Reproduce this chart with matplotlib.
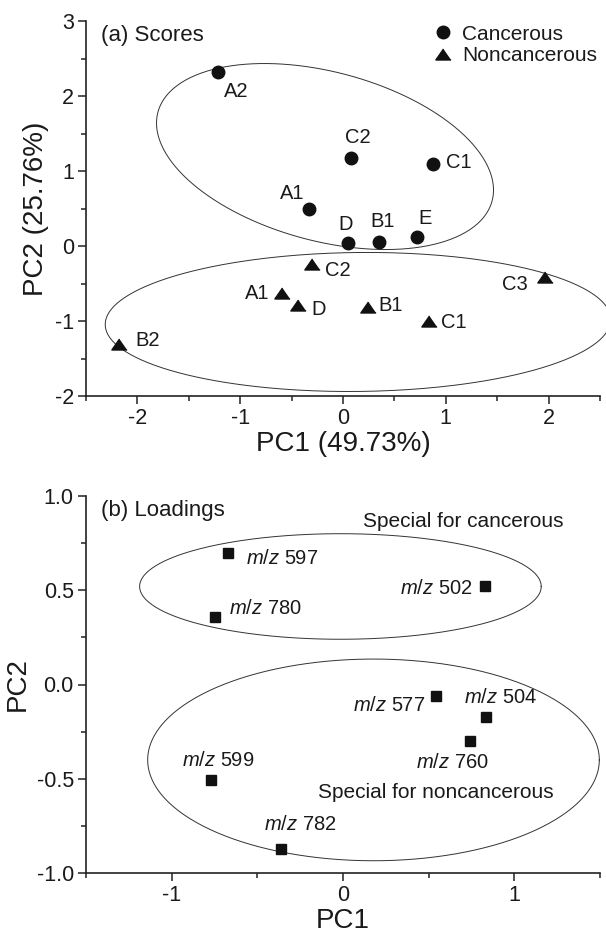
import numpy as np
import matplotlib
matplotlib.use("Agg")
import matplotlib.pyplot as plt
from matplotlib.ticker import MultipleLocator, FormatStrFormatter
from matplotlib.lines import Line2D

plt.rcParams['font.family'] = ['Liberation Sans', 'DejaVu Sans']
plt.rcParams['axes.unicode_minus'] = False
plt.rcParams['mathtext.fontset'] = 'custom'
plt.rcParams['mathtext.rm'] = 'Liberation Sans'
plt.rcParams['mathtext.it'] = 'Liberation Sans:italic'

TXT = '#1a1a1a'

# ---------------- data: (a) scores ----------------
cancer_labels = ['A2', 'A1', 'C2', 'C1', 'D', 'B1', 'E']
cancer_pc1 = [-1.22, -0.33, 0.075, 0.88, 0.046, 0.354, 0.72]
cancer_pc2 = [2.32, 0.49, 1.17, 1.10, 0.035, 0.05, 0.12]
cancer_offsets = [(13.5, -14.2), (-11.9, 11.5), (4.9, 15), (18, 0.6),
                  (-1.7, 13.9), (2.3, 14.8), (6, 13.2)]

non_labels = ['C2', 'A1', 'D', 'B1', 'C1', 'C3', 'B2']
non_pc1 = [-0.30, -0.593, -0.44, 0.24, 0.84, 1.964, -2.18]
non_pc2 = [-0.24, -0.63, -0.79, -0.81, -1.00, -0.41, -1.31]
non_offsets = [(18.4, -4.7), (-17.8, 0), (15, -3.2), (16.5, 0.9),
               (17.9, -1.1), (-21.3, -5.4), (20.9, 2.5)]

# ---------------- data: (b) loadings ----------------
load_labels = ['597', '780', '502', '577', '504', '760', '599', '782']
load_pc1 = [-0.67, -0.745, 0.826, 0.54, 0.837, 0.742, -0.768, -0.362]
load_pc2 = [0.70, 0.36, 0.52, -0.061, -0.17, -0.30, -0.507, -0.874]
load_offsets = [(38.6, -4), (35.8, 6), (-34.5, -1.2), (-33.1, -7.1),
                (9.8, 13.8), (-12.7, -15.1), (4.8, 13.8), (13.8, 17.5)]

# ellipses: (cx, cy, half-x-extent, half-y-extent, correlation)
ellipses_a = [(-0.175, 1.193, 1.639, 1.24, -0.36),
              (0.146, -1.013, 2.459, 0.927, 0.036)]
ellipses_b = [(-0.015, 0.52, 1.172, 0.28, 0.0),
              (0.178, -0.40, 1.318, 0.535, 0.0)]

tri = [(0, 0.72), (-1, -0.72), (1, -0.72)]


def draw_ellipse(ax, cx, cy, hx, hy, r):
    t = np.linspace(0, 2 * np.pi, 400)
    x = cx + hx * np.cos(t)
    y = cy + hy * (r * np.cos(t) + np.sqrt(1 - r * r) * np.sin(t))
    ax.plot(x, y, color='#333333', lw=0.7, clip_on=False, zorder=1)


def style_axes(ax):
    for s in ['top', 'right']:
        ax.spines[s].set_visible(False)
    for s in ['left', 'bottom']:
        ax.spines[s].set_linewidth(1.2)
        ax.spines[s].set_color('#222222')
    ax.tick_params(which='major', direction='out', length=5.8, width=1.1,
                   labelsize=15.5, pad=3, colors='#222222', labelcolor=TXT)
    ax.tick_params(which='minor', direction='out', length=3.5, width=1.1,
                   colors='#222222')


fig = plt.figure(figsize=(6.06, 9.35), dpi=100)

# ---------------- panel (a) ----------------
axa = fig.add_axes([86 / 606, 1 - 396 / 935, 514 / 606, 375 / 935])
axa.set_xlim(-2.5, 2.5)
axa.set_ylim(-2, 3)
axa.xaxis.set_major_locator(MultipleLocator(1))
axa.xaxis.set_minor_locator(MultipleLocator(0.5))
axa.yaxis.set_major_locator(MultipleLocator(1))
axa.yaxis.set_minor_locator(MultipleLocator(0.5))
style_axes(axa)

for e in ellipses_a:
    draw_ellipse(axa, *e)

axa.plot(cancer_pc1, cancer_pc2, 'o', ms=9, color='#111111', ls='none', zorder=3)
axa.plot(non_pc1, non_pc2, marker=tri, ms=11, color='#111111', ls='none', zorder=3)

for lab, x, y, off in zip(cancer_labels, cancer_pc1, cancer_pc2, cancer_offsets):
    axa.annotate(lab, (x, y), xytext=off, textcoords='offset points',
                 ha='center', va='center', fontsize=14.5, color=TXT)
for lab, x, y, off in zip(non_labels, non_pc1, non_pc2, non_offsets):
    axa.annotate(lab, (x, y), xytext=off, textcoords='offset points',
                 ha='center', va='center', fontsize=14.5, color=TXT)

axa.text(0.03, 0.96, '(a) Scores', transform=axa.transAxes, fontsize=16,
         ha='left', va='center', color=TXT)
axa.set_xlabel('PC1 (49.73%)', fontsize=20, color=TXT, labelpad=1)
axa.set_ylabel('PC2 (25.76%)', fontsize=20, color=TXT, labelpad=4)

handles = [Line2D([], [], marker='o', ms=9, color='#111111', ls='none'),
           Line2D([], [], marker=tri, ms=11, color='#111111', ls='none')]
axa.legend(handles, ['Cancerous', 'Noncancerous'], loc='upper left',
           bbox_to_anchor=(0.675, 0.99), frameon=False, fontsize=15,
           handlelength=1.0, handletextpad=0.4, labelspacing=0.1,
           borderpad=0, borderaxespad=0, labelcolor=TXT)

# ---------------- panel (b) ----------------
axb = fig.add_axes([86 / 606, 1 - 873 / 935, 514 / 606, 377 / 935])
axb.set_xlim(-1.5, 1.5)
axb.set_ylim(-1.0, 1.0)
axb.xaxis.set_major_locator(MultipleLocator(1))
axb.xaxis.set_minor_locator(MultipleLocator(0.5))
axb.yaxis.set_major_locator(MultipleLocator(0.5))
axb.yaxis.set_minor_locator(MultipleLocator(0.25))
axb.yaxis.set_major_formatter(FormatStrFormatter('%.1f'))
style_axes(axb)

for e in ellipses_b:
    draw_ellipse(axb, *e)

axb.plot(load_pc1, load_pc2, 's', ms=7.5, color='#111111', ls='none', zorder=3)
for lab, x, y, off in zip(load_labels, load_pc1, load_pc2, load_offsets):
    axb.annotate(r'$\it{m/z}$ ' + lab, (x, y), xytext=off, textcoords='offset points',
                 ha='center', va='center', fontsize=14.5, color=TXT)

axb.text(0.70, 0.864, 'Special for cancerous', fontsize=15, ha='center',
         va='center', color=TXT)
axb.text(0.54, -0.574, 'Special for noncancerous', fontsize=15, ha='center',
         va='center', color=TXT)
axb.text(0.03, 0.961, '(b) Loadings', transform=axb.transAxes, fontsize=16,
         ha='left', va='center', color=TXT)
axb.set_xlabel('PC1', fontsize=20, color=TXT, labelpad=1)
axb.set_ylabel('PC2', fontsize=20, color=TXT, labelpad=4)

fig.savefig('out.png', dpi=100)
